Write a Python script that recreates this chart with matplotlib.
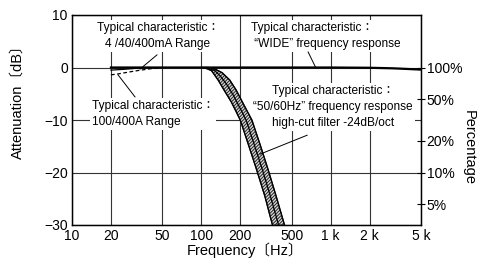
import matplotlib
matplotlib.use("Agg")
import matplotlib.pyplot as plt
import numpy as np

# frequency ticks
freq_ticks = [10, 20, 50, 100, 200, 500, 1000, 2000, 5000]
freq_labels = ["10", "20", "50", "100", "200", "500", "1 k", "2 k", "5 k"]
db_ticks = [10, 0, -10, -20, -30]
db_labels = ["10", "0", "\u221210", "\u221220", "\u221230"]
pct_labels = ["100%", "50%", "20%", "10%", "5%"]
pct_values = [1.0, 0.5, 0.2, 0.1, 0.05]

# "WIDE" frequency response
wide_f = [20, 50, 100, 500, 1000, 2000, 3000, 5000]
wide_db = [0, 0, 0, 0, 0, -0.05, -0.15, -0.4]

# 4/40/400mA range (solid) and 100/400A range (dashed), low end
ma_f = [20, 25, 30, 35, 40]
ma_db = [-0.5, -0.35, -0.2, -0.05, 0]
a_f = [20, 23, 27, 32, 40, 50]
a_db = [-1.4, -1.2, -0.9, -0.6, -0.25, 0]

# 50/60Hz high-cut filter band: lower edge, middle, upper edge
lo_f = [100, 110, 120, 135, 150, 170, 185, 200, 230, 268, 310, 355]
lo_db = [0, -0.2, -0.6, -2.4, -4.3, -6.5, -8.3, -10, -14.5, -19.5, -24.5, -30]
mid_f = [105, 115, 127, 140, 157, 177, 197, 222, 256, 297, 343, 396]
mid_db = [0, -0.2, -0.6, -1.6, -3.2, -5.3, -7.5, -10, -14.6, -19.5, -24.6, -30]
hi_f = [110, 120, 130, 145, 166, 186, 210, 246, 285, 329, 380, 440]
hi_db = [0, -0.1, -0.4, -1.0, -2.4, -4.3, -6.8, -10, -14.7, -19.5, -24.6, -30]

plt.rcParams["hatch.linewidth"] = 0.7
NUM = ["Liberation Sans", "DejaVu Sans"]
ANN = ["Liberation Sans Narrow", "Liberation Sans", "Noto Sans CJK JP"]
LAB = ["Liberation Sans", "Noto Sans CJK JP"]

fig = plt.figure(figsize=(4.78, 2.58), dpi=100)
ax = fig.add_axes([72 / 478, 33 / 258, 349 / 478, 210 / 258])
ax.set_xscale("log")
ax.set_xlim(10, 5000)
ax.set_ylim(-30, 10)
ax.set_xticks(freq_ticks)
ax.set_xticklabels(freq_labels, family=NUM, fontsize=10)
ax.minorticks_off()
ax.set_yticks(db_ticks)
ax.set_yticklabels(db_labels, family=NUM, fontsize=10)
ax.tick_params(length=0, pad=3)
ax.grid(True, color="#333333", lw=0.8)
ax.set_axisbelow(True)
for s in ax.spines.values():
    s.set_linewidth(1.0)

# right percentage axis
ax2 = ax.twinx()
ax2.set_ylim(-30, 10)
ax2.set_yticks([20 * np.log10(p) for p in pct_values])
ax2.set_yticklabels(pct_labels, family=NUM, fontsize=10)
ax2.tick_params(direction="inout", length=6, width=0.8, pad=1)

# curves
ax.plot(wide_f, wide_db, color="black", lw=1.6, zorder=4)
ax.plot(ma_f, ma_db, color="black", lw=0.9, zorder=4)
ax.plot(a_f, a_db, color="black", lw=0.9, ls=(0, (3, 2)), zorder=4)
band_f = lo_f + hi_f[::-1]
band_db = lo_db + hi_db[::-1]
ax.fill(band_f, band_db, facecolor="#d8d8d8", edgecolor="#222222",
        hatch="//////////", lw=0.9, zorder=4)
ax.plot(mid_f, mid_db, color="black", lw=0.9, zorder=5)
ax.plot(lo_f, lo_db, color="black", lw=0.9, zorder=5)
ax.plot(hi_f, hi_db, color="black", lw=0.9, zorder=5)

box = dict(fc="white", ec="none", pad=1.5)
tk = dict(family=ANN, fontsize=8.6, transform=ax.transAxes, bbox=box, zorder=3,
          linespacing=1.45)
ax.text(0.246, 0.90, "Typical characteristic\uff1a\n4 /40/400mA Range",
        ha="center", va="center", **tk)
ax.text(0.057, 0.53, "Typical characteristic\uff1a\n100/400A Range",
        ha="left", va="center", **tk)
ax.text(0.513, 0.90, "Typical characteristic\uff1a\n \u201cWIDE\u201d frequency response",
        ha="left", va="center", **tk)
ax.text(0.748, 0.56, "Typical characteristic\uff1a\n\u201c50/60Hz\u201d frequency response\nhigh-cut filter -24dB/oct",
        ha="center", va="center", **tk)

# leader lines
lk = dict(color="black", lw=0.7, zorder=6)
ax.plot([45.4, 33.6], [2.4, -0.3], **lk)
ax.plot([30.7, 22.7], [-5.6, -1.4], **lk)
ax.plot([670, 770], [2.95, -0.1], **lk)
ax.plot([658, 285], [-12.9, -16.5], **lk)

fig.text(18 / 478, 1 - 98 / 258, "Attenuation\u3014dB\u3015", rotation=90,
         ha="center", va="center", family=LAB, fontsize=10.5)
fig.text(469 / 478, 1 - 148 / 258, "Percentage", rotation=-90,
         ha="center", va="center", family=LAB, fontsize=10.5)
fig.text(245 / 478, 1 - 250 / 258, "Frequency\u3014Hz\u3015",
         ha="center", va="center", family=LAB, fontsize=10.5)

fig.savefig("out.png", dpi=100)
